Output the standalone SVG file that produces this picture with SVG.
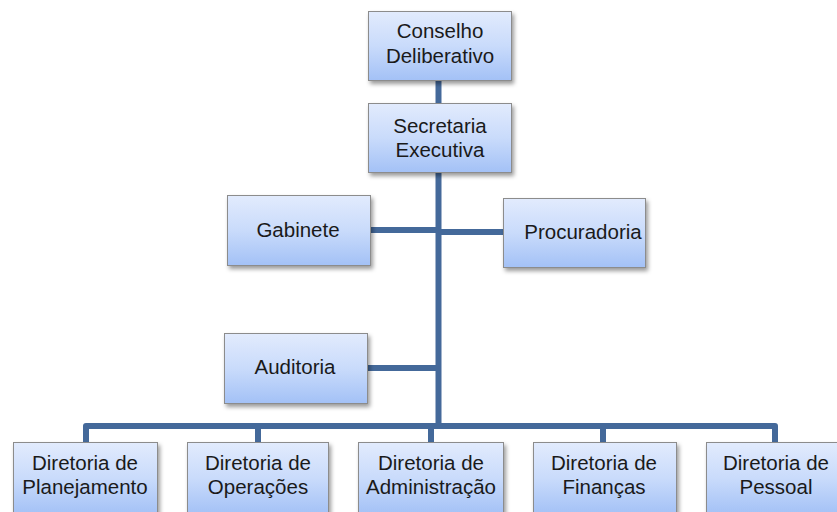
<svg xmlns="http://www.w3.org/2000/svg" width="837" height="512" viewBox="0 0 837 512">
<style>
.box{fill:url(#g);stroke:#8c8c8c;stroke-width:1;filter:url(#sh)}
.t{font-family:"Liberation Sans",Arial,sans-serif;font-size:20.5px;fill:#1a1a1a;text-anchor:middle}
.c{fill:none;stroke:#44699a;stroke-width:6;stroke-linejoin:round}
</style>
<defs>
<linearGradient id="g" x1="0" y1="0" x2="0" y2="1">
<stop offset="0" stop-color="#e2ebfd"/>
<stop offset="0.5" stop-color="#c9dbfb"/>
<stop offset="1" stop-color="#a3c1f6"/>
</linearGradient>
<filter id="sh" x="-10%" y="-10%" width="130%" height="140%">
<feDropShadow dx="2" dy="3" stdDeviation="2" flood-color="#000" flood-opacity="0.4"/>
</filter>
</defs>
<rect width="837" height="512" fill="#fff"/>
<g id="connectors">
<path class="c" d="M438.5,80 V103"/>
<path class="c" d="M438.5,173 V426"/>
<path class="c" d="M370,230 H438.5"/>
<path class="c" d="M438.5,232 H503"/>
<path class="c" d="M367,368 H438.5"/>
<path class="c" d="M86,442 V426 H775 V442"/>
<path class="c" d="M258,426 V442"/>
<path class="c" d="M431,426 V442"/>
<path class="c" d="M603,426 V442"/>
</g>
<g id="conselho">
<rect class="box" x="368.5" y="11.5" width="143" height="69"/>
<text class="t" x="440" y="38">Conselho</text>
<text class="t" x="440" y="63">Deliberativo</text>
</g>
<g id="secretaria">
<rect class="box" x="368.5" y="103.5" width="143" height="69"/>
<text class="t" x="440" y="133">Secretaria</text>
<text class="t" x="440" y="157">Executiva</text>
</g>
<g id="gabinete">
<rect class="box" x="227.5" y="195.5" width="143" height="70"/>
<text class="t" x="298" y="237">Gabinete</text>
</g>
<g id="procuradoria">
<rect class="box" x="503.5" y="198.5" width="142" height="69"/>
<text class="t" x="583" y="239">Procuradoria</text>
</g>
<g id="auditoria">
<rect class="box" x="224.5" y="333.5" width="143" height="70"/>
<text class="t" x="295" y="374">Auditoria</text>
</g>
<g id="planejamento">
<rect class="box" x="13.5" y="442.5" width="144" height="72"/>
<text class="t" x="85" y="470">Diretoria de</text>
<text class="t" x="85" y="494">Planejamento</text>
</g>
<g id="operacoes">
<rect class="box" x="187.5" y="442.5" width="141" height="72"/>
<text class="t" x="258" y="470">Diretoria de</text>
<text class="t" x="258" y="494">Operações</text>
</g>
<g id="administracao">
<rect class="box" x="358.5" y="442.5" width="145" height="72"/>
<text class="t" x="431" y="470">Diretoria de</text>
<text class="t" x="431" y="494">Administração</text>
</g>
<g id="financas">
<rect class="box" x="533.5" y="442.5" width="143" height="72"/>
<text class="t" x="604" y="470">Diretoria de</text>
<text class="t" x="604" y="494">Finanças</text>
</g>
<g id="pessoal">
<rect class="box" x="706.5" y="442.5" width="144" height="72"/>
<text class="t" x="776" y="470">Diretoria de</text>
<text class="t" x="776" y="494">Pessoal</text>
</g>
</svg>
